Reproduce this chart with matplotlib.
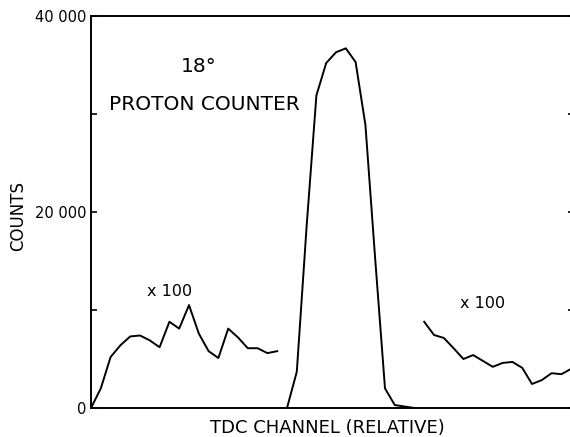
import matplotlib
matplotlib.use("Agg")
import matplotlib.pyplot as plt
import numpy as np

# ---- data ----
left_channels = list(range(0, 20))
left_counts_x100 = [0, 20, 52, 64, 73, 74, 69, 62, 88, 81, 105, 76, 58, 51, 81, 72, 61, 61, 56, 58]

peak_channels = list(range(20, 34))
peak_counts = [0, 3700, 18500, 31900, 35200, 36300, 36700, 35300, 28900, 15200, 2000, 300, 150, 0]

right_channels = list(range(34, 50))
right_counts_x100 = [88, 74.5, 71.5, 61, 50, 54, 48, 42, 46, 47, 41, 24.5, 28.5, 35.5, 34.5, 40]

scale = 100
ytick_values = [0, 20000, 40000]
ytick_labels = ["0", "20 000", "40 000"]
yminor_values = [10000, 30000]

W, H = 570, 437
fig = plt.figure(figsize=(W / 100, H / 100), dpi=100)
fig.patch.set_facecolor("white")

# axes: left spine x=91, bottom y=408, top y=16, right spine just past the image edge
ax = fig.add_axes([91 / W, (H - 408) / H, 483 / W, 392 / H])
ax.set_xlim(0, 483 / 9.8)
ax.set_ylim(0, 40000)

lw = 1.4
ax.plot(left_channels, np.array(left_counts_x100) * scale, color="black", lw=lw)
ax.plot(peak_channels, peak_counts, color="black", lw=lw)
ax.plot(right_channels, np.array(right_counts_x100) * scale, color="black", lw=lw)

for s in ax.spines.values():
    s.set_linewidth(1.4)
    s.set_color("black")

ax.set_xticks([])
ax.set_yticks(ytick_values)
ax.set_yticklabels(ytick_labels)
ax.set_yticks(yminor_values, minor=True)
ax.tick_params(axis="y", which="both", direction="in", length=4.5, width=1.2,
               right=True, left=True, labelsize=10.5, pad=3)


def fpx(x, y):
    return x / W, 1 - y / H


fs_big = 14.5
fig.text(*fpx(199, 66), "18°", fontsize=fs_big, ha="center", va="center")
fig.text(*fpx(204, 104), "PROTON COUNTER", fontsize=fs_big, ha="center", va="center")
fig.text(*fpx(170, 292), "x 100", fontsize=11.5, ha="center", va="center")
fig.text(*fpx(483, 304), "x 100", fontsize=11.5, ha="center", va="center")
fig.text(*fpx(18, 216), "COUNTS", fontsize=12, rotation=90, ha="center", va="center")
fig.text(*fpx(327, 428), "TDC CHANNEL (RELATIVE)", fontsize=13, ha="center", va="center")

fig.savefig("out.png", dpi=100, facecolor="white")
